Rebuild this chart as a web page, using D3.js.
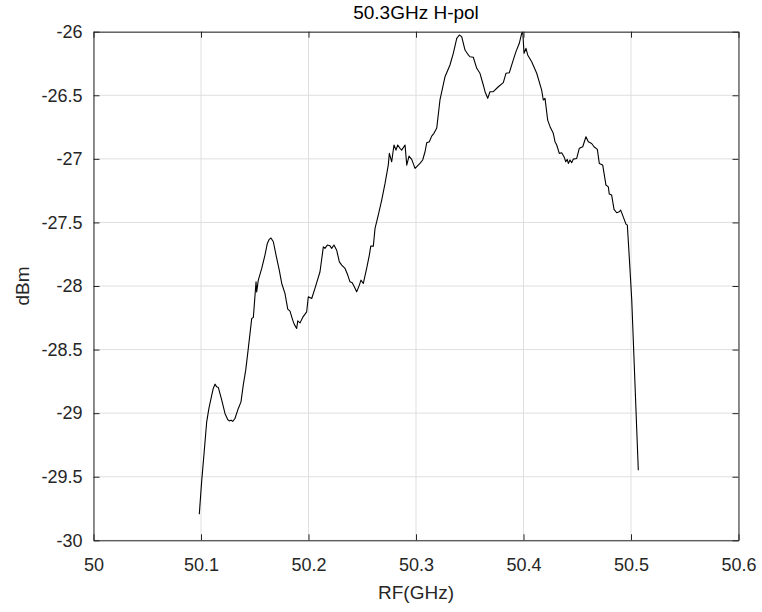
<!DOCTYPE html>
<html>
<head>
<meta charset="utf-8">
<script src="https://cdn.jsdelivr.net/npm/d3@7"></script>
<style>
  html, body { margin: 0; padding: 0; background: #fff; }
  svg text { font-family: "Liberation Sans", Arial, sans-serif; }
</style>
</head>
<body>
<div id="chart"></div>
<script>
"use strict";
// 50.3GHz H-pol — спектр
const freq = [50.0984,50.1007,50.1031,50.1053,50.1074,50.1100,50.1114,50.1130,50.1146,50.1161,
  50.1193,50.1223,50.1248,50.1263,50.1279,50.1295,50.1316,50.1347,50.1372,50.1393,
  50.1416,50.1440,50.1472,50.1487,50.1512,50.1518,50.1533,50.1565,50.1595,50.1617,
  50.1635,50.1651,50.1673,50.1698,50.1728,50.1751,50.1781,50.1807,50.1828,50.1853,
  50.1868,50.1890,50.1900,50.1921,50.1946,50.1983,50.1998,50.2030,50.2060,50.2107,
  50.2138,50.2153,50.2175,50.2200,50.2216,50.2237,50.2262,50.2287,50.2309,50.2340,
  50.2365,50.2386,50.2407,50.2426,50.2448,50.2473,50.2488,50.2510,50.2541,50.2566,
  50.2579,50.2603,50.2619,50.2649,50.2681,50.2712,50.2742,50.2752,50.2774,50.2795,
  50.2814,50.2830,50.2851,50.2867,50.2898,50.2914,50.2935,50.2960,50.2991,50.3012,
  50.3037,50.3062,50.3084,50.3100,50.3124,50.3146,50.3167,50.3193,50.3223,50.3270,
  50.3316,50.3347,50.3379,50.3403,50.3425,50.3456,50.3487,50.3502,50.3533,50.3565,
  50.3595,50.3626,50.3642,50.3651,50.3667,50.3688,50.3719,50.3766,50.3812,50.3837,
  50.3868,50.3900,50.3930,50.3961,50.3983,50.3993,50.4005,50.4023,50.4039,50.4076,
  50.4123,50.4169,50.4184,50.4200,50.4225,50.4247,50.4277,50.4293,50.4309,50.4333,
  50.4355,50.4377,50.4393,50.4407,50.4417,50.4433,50.4448,50.4463,50.4495,50.4519,
  50.4551,50.4581,50.4603,50.4634,50.4656,50.4687,50.4705,50.4737,50.4767,50.4789,
  50.4798,50.4820,50.4842,50.4867,50.4891,50.4904,50.4928,50.4953,50.4966,50.4991,
  50.5007,50.5068];
const power = [-29.795,-29.527,-29.291,-29.068,-28.961,-28.858,-28.806,-28.772,-28.793,-28.798,
  -28.898,-29.002,-29.050,-29.061,-29.055,-29.065,-29.042,-28.963,-28.911,-28.780,
  -28.662,-28.491,-28.255,-28.247,-27.967,-28.046,-27.954,-27.862,-27.757,-27.665,
  -27.633,-27.623,-27.652,-27.757,-27.875,-27.980,-28.058,-28.182,-28.198,-28.268,
  -28.302,-28.334,-28.274,-28.290,-28.247,-28.203,-28.085,-28.098,-28.019,-27.888,
  -27.692,-27.704,-27.678,-27.684,-27.704,-27.678,-27.718,-27.810,-27.836,-27.862,
  -27.914,-27.967,-27.975,-28.006,-28.046,-27.993,-27.954,-27.980,-27.862,-27.757,
  -27.686,-27.686,-27.547,-27.442,-27.324,-27.193,-27.049,-26.957,-27.023,-26.891,
  -26.931,-26.891,-26.917,-26.931,-26.891,-27.049,-26.978,-27.004,-27.075,-27.057,
  -27.036,-27.009,-26.944,-26.873,-26.865,-26.821,-26.799,-26.758,-26.537,-26.354,
  -26.262,-26.170,-26.052,-26.026,-26.039,-26.144,-26.183,-26.197,-26.201,-26.288,
  -26.327,-26.419,-26.472,-26.490,-26.524,-26.472,-26.472,-26.433,-26.401,-26.327,
  -26.323,-26.236,-26.157,-26.091,-26.013,-26.000,-26.170,-26.131,-26.183,-26.236,
  -26.327,-26.459,-26.537,-26.524,-26.695,-26.747,-26.799,-26.865,-26.891,-26.957,
  -26.952,-26.983,-27.023,-27.004,-27.036,-27.009,-27.031,-27.002,-26.997,-26.917,
  -26.905,-26.826,-26.866,-26.879,-26.905,-26.926,-27.036,-27.049,-27.206,-27.220,
  -27.277,-27.285,-27.397,-27.424,-27.416,-27.403,-27.456,-27.513,-27.521,-27.875,
  -28.111,-29.449];
const xTicks = [50,50.1,50.2,50.3,50.4,50.5,50.6];
const yTicks = [-26,-26.5,-27,-27.5,-28,-28.5,-29,-29.5,-30];
const titleText = "50.3GHz H-pol", xLabel = "RF(GHz)", yLabel = "dBm";

const W = 762, H = 612;
const M = { left: 93.5, right: W-738.5, top: 31.7, bottom: H-540.3 };
const iw = W - M.left - M.right, ih = H - M.top - M.bottom;
const AX = "#262626";

const svg = d3.select("#chart").append("svg").attr("width", W).attr("height", H);
const g = svg.append("g").attr("transform", `translate(${M.left},${M.top})`);
const x = d3.scaleLinear().domain([50, 50.6]).range([0, iw]);
const y = d3.scaleLinear().domain([-30, -26]).range([ih, 0]);

// сетка
g.append("g").selectAll("line").data(xTicks).join("line")
  .attr("x1", d=>x(d)).attr("x2", d=>x(d)).attr("y1", 0).attr("y2", ih)
  .attr("stroke", "#dfdfdf").attr("stroke-width", 1);
g.append("g").selectAll("line").data(yTicks).join("line")
  .attr("y1", d=>y(d)).attr("y2", d=>y(d)).attr("x1", 0).attr("x2", iw)
  .attr("stroke", "#dfdfdf").attr("stroke-width", 1);

// кривая
const clipId = "plotclip";
svg.append("defs").append("clipPath").attr("id", clipId).append("rect").attr("width", iw).attr("height", ih);
g.append("path").datum(freq.map((f,i)=>[f, power[i]]))
  .attr("clip-path", `url(#${clipId})`)
  .attr("fill", "none").attr("stroke", "#000").attr("stroke-width", 1.1).attr("stroke-linejoin", "round")
  .attr("d", d3.line().x(d=>x(d[0])).y(d=>y(d[1])));

// оси в стиле MATLAB: тики внутрь, рамка со всех сторон; минус — обычный дефис, как в MATLAB
const fmt = (d)=> String(d);
const axB = g.append("g").attr("transform", `translate(0,${ih})`).call(d3.axisBottom(x).tickValues(xTicks).tickFormat(fmt).tickSizeInner(-6).tickSizeOuter(0).tickPadding(18));
const axT = g.append("g").call(d3.axisTop(x).tickValues(xTicks).tickFormat("").tickSizeInner(-6).tickSizeOuter(0));
const axL = g.append("g").call(d3.axisLeft(y).tickValues(yTicks).tickFormat(fmt).tickSizeInner(-6).tickSizeOuter(0).tickPadding(11));
const axR = g.append("g").attr("transform", `translate(${iw},0)`).call(d3.axisRight(y).tickValues(yTicks).tickFormat("").tickSizeInner(-6).tickSizeOuter(0));
[axB, axT, axL, axR].forEach(a=>{
  a.select(".domain").attr("stroke", AX);
  a.selectAll(".tick line").attr("stroke", AX);
  a.selectAll("text").attr("fill", AX).style("font-size", "18px");
});

svg.append("text").attr("x", M.left + iw/2).attr("y", 19).attr("text-anchor", "middle")
  .attr("fill", "#000").style("font-size", "19px").text(titleText);
svg.append("text").attr("x", M.left + iw/2).attr("y", 599).attr("text-anchor", "middle")
  .attr("fill", AX).style("font-size", "19px").text(xLabel);
svg.append("text").attr("transform", `translate(29,${M.top + ih/2}) rotate(-90)`).attr("text-anchor", "middle")
  .attr("fill", AX).style("font-size", "19px").text(yLabel);
</script>
</body>
</html>
